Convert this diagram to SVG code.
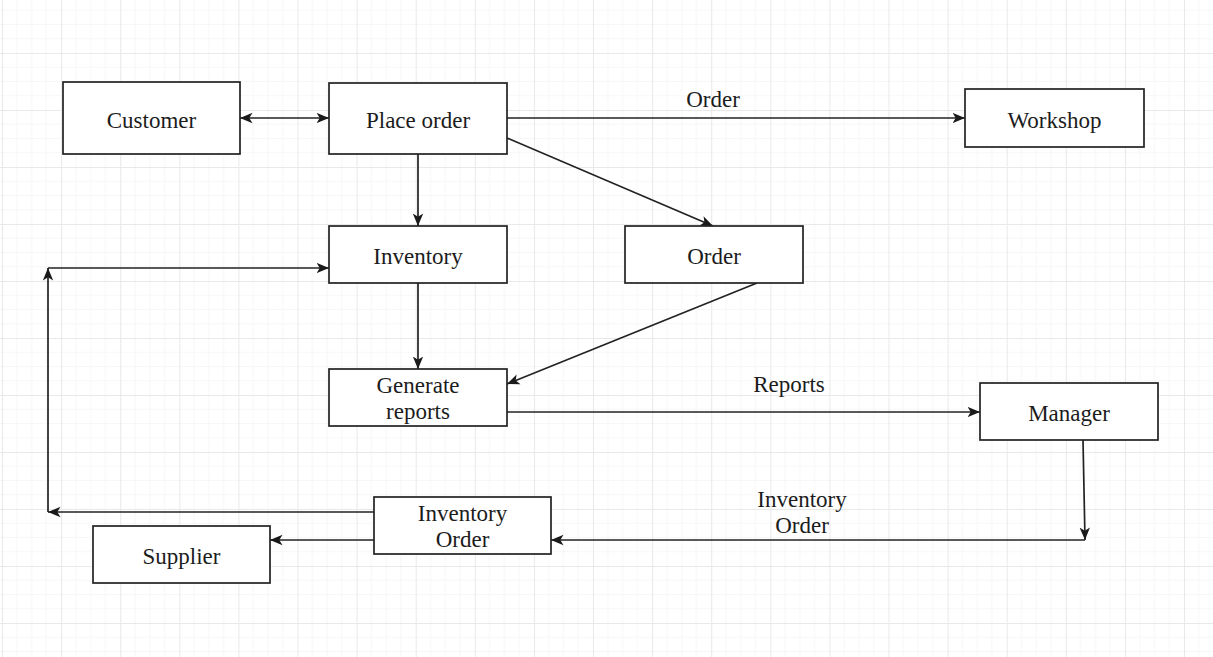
<svg xmlns="http://www.w3.org/2000/svg" width="1213" height="657" viewBox="0 0 1213 657">
  <defs>
    <!-- background grid: faint minor lines, stronger major lines -->
    <pattern id="grid" patternUnits="userSpaceOnUse" x="2" y="-4" width="59.1" height="57">
      <rect width="59.1" height="57" fill="#ffffff"/>
      <path d="M14.8,0 V57 M29.6,0 V57 M44.3,0 V57 M0,14.25 H59.1 M0,28.5 H59.1 M0,42.75 H59.1" stroke="#f7f7f7" stroke-width="1" fill="none"/>
      <path d="M0,0 V57 M0,0 H59.1" stroke="#e9e9e9" stroke-width="2" fill="none"/>
    </pattern>
    <marker id="arrow" markerUnits="userSpaceOnUse" markerWidth="13" markerHeight="12" refX="12.5" refY="6" orient="auto-start-reverse">
      <path d="M0,0.8 L12.5,6 L0,11.2 L3.2,6 Z" fill="#1a1a1a"/>
    </marker>
    <style>
      .node rect { fill: #ffffff; stroke: #222222; stroke-width: 1.7; }
      .node text, .label { font-family: "Liberation Serif", "Times New Roman", serif; font-size: 23px; fill: #1c1c1c; text-anchor: middle; }
      .edge { fill: none; stroke: #222222; stroke-width: 1.7; }
      .arr { marker-end: url(#arrow); }
    </style>
  </defs>

  <rect x="0" y="0" width="1213" height="657" fill="url(#grid)"/>

  <!-- connectors -->
  <g id="connectors">
    <path class="edge arr" d="M240,118 H329" marker-start="url(#arrow)"/>
    <path class="edge arr" d="M507,118 H965"/>
    <path class="edge arr" d="M507,138 L713,226"/>
    <path class="edge arr" d="M418,154 V226"/>
    <path class="edge arr" d="M418,283 V369"/>
    <path class="edge arr" d="M757,283 L507,384"/>
    <path class="edge arr" d="M507,412 H980"/>
    <path class="edge arr" d="M1083,440 L1085,540"/>
    <path class="edge arr" d="M1085,540 H551"/>
    <path class="edge arr" d="M374,540 H270"/>
    <path class="edge arr" d="M374,512 H48"/>
    <path class="edge arr" d="M48,512 V268"/>
    <path class="edge arr" d="M48,268 H329"/>
    <text class="label" x="713" y="107">Order</text>
    <text class="label" x="789" y="392">Reports</text>
    <text class="label" x="802" y="507">Inventory</text>
    <text class="label" x="802" y="533">Order</text>
  </g>

  <!-- nodes -->
  <g id="customer" class="node">
    <rect x="63" y="82" width="177" height="72"/>
    <text x="151.5" y="128">Customer</text>
  </g>
  <g id="place-order" class="node">
    <rect x="329" y="83" width="178" height="71"/>
    <text x="418" y="128">Place order</text>
  </g>
  <g id="workshop" class="node">
    <rect x="965" y="89" width="179" height="58"/>
    <text x="1054.5" y="128">Workshop</text>
  </g>
  <g id="inventory" class="node">
    <rect x="329" y="226" width="178" height="57"/>
    <text x="418" y="264">Inventory</text>
  </g>
  <g id="order" class="node">
    <rect x="625" y="226" width="178" height="57"/>
    <text x="714" y="264">Order</text>
  </g>
  <g id="generate-reports" class="node">
    <rect x="329" y="369" width="178" height="57"/>
    <text x="418" y="393">Generate</text>
    <text x="418" y="419">reports</text>
  </g>
  <g id="manager" class="node">
    <rect x="980" y="383" width="178" height="57"/>
    <text x="1069" y="421">Manager</text>
  </g>
  <g id="inventory-order" class="node">
    <rect x="374" y="497" width="177" height="57"/>
    <text x="462.5" y="521">Inventory</text>
    <text x="462.5" y="547">Order</text>
  </g>
  <g id="supplier" class="node">
    <rect x="93" y="526" width="177" height="57"/>
    <text x="181.5" y="564">Supplier</text>
  </g>
</svg>
